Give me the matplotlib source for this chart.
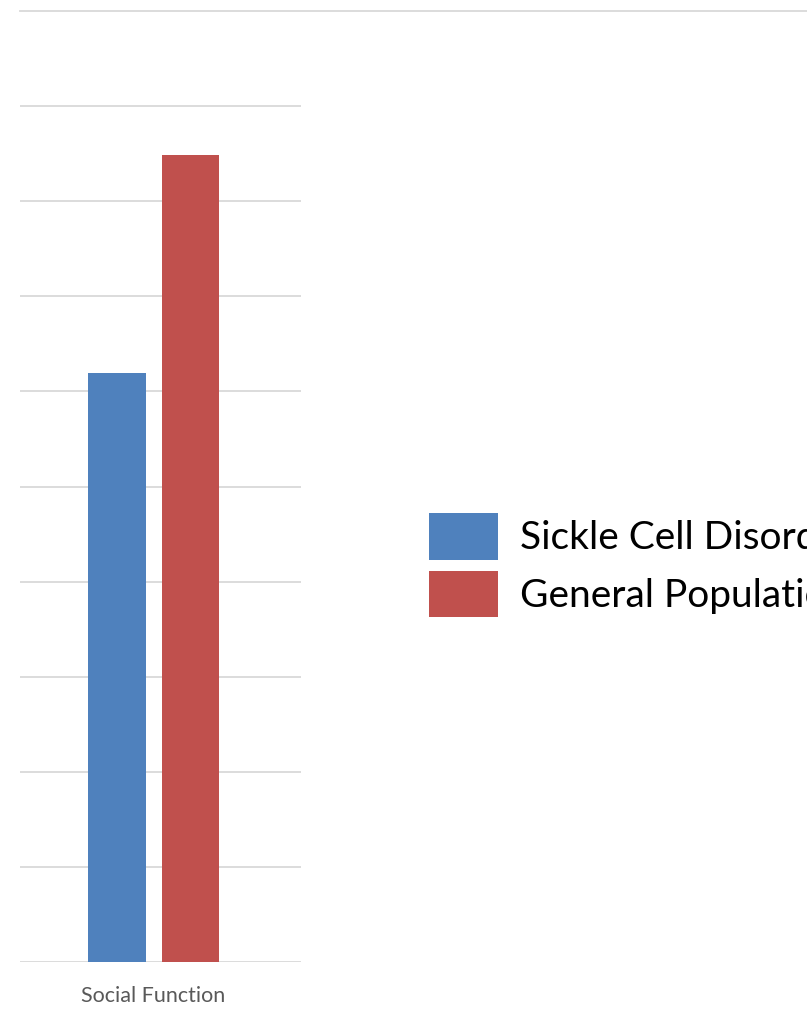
import matplotlib
matplotlib.use("Agg")
import matplotlib.pyplot as plt
from matplotlib.lines import Line2D

# ---------- data ----------
categories = ["Social Function"]
series_names = ["Sickle Cell Disorder", "General Population"]
sickle_vals = [61.9]
general_vals = [84.9]
colors = ["#4F81BD", "#C0504D"]

W, H = 807, 1009
fig = plt.figure(figsize=(W / 100, H / 100), dpi=100)
plt.rcParams["font.family"] = ["Lato", "DejaVu Sans"]

# plot area in pixels: x 20..301, y baseline 962, 10 units ~ 95.1 px
left, right = 20, 301
bottom = 962
top = bottom - 951
ax = fig.add_axes([left / W, 1 - bottom / H, (right - left) / W, (bottom - top) / H])

x = list(range(len(categories)))
b1 = ax.bar([i - 0.155 for i in x], sickle_vals, width=0.205, color=colors[0],
            label=series_names[0], zorder=3)
b2 = ax.bar([i + 0.107 for i in x], general_vals, width=0.205, color=colors[1],
            label=series_names[1], zorder=3)

ax.set_xlim(-0.5, len(categories) - 0.5)
ax.set_ylim(0, 100)
for v in range(0, 100, 10):
    ax.axhline(v, color="#d9d9d9", linewidth=1.3, zorder=1)
# top border line reaches across the whole picture
ax.add_line(Line2D([0, (W - left) / (right - left)], [100, 100], color="#d9d9d9",
                   linewidth=1.3, transform=ax.get_yaxis_transform(), clip_on=False))

for s in ax.spines.values():
    s.set_visible(False)
ax.set_yticks([])
ax.set_xticks([-0.025])
ax.set_xticklabels(categories, fontsize=15.5, color="#595959")
ax.tick_params(axis="x", length=0, pad=17)

# legend runs past the right edge, as in the original crop
fs = 28
fig.legend(handles=[b1, b2], labels=series_names, loc="upper left",
           bbox_to_anchor=(429 / W, 1 - 513 / H), frameon=False, fontsize=fs,
           handlelength=1.774, handleheight=1.47, handletextpad=0.566,
           labelspacing=0.28, borderpad=0, borderaxespad=0)

fig.savefig("out.png", dpi=100, facecolor="white")
